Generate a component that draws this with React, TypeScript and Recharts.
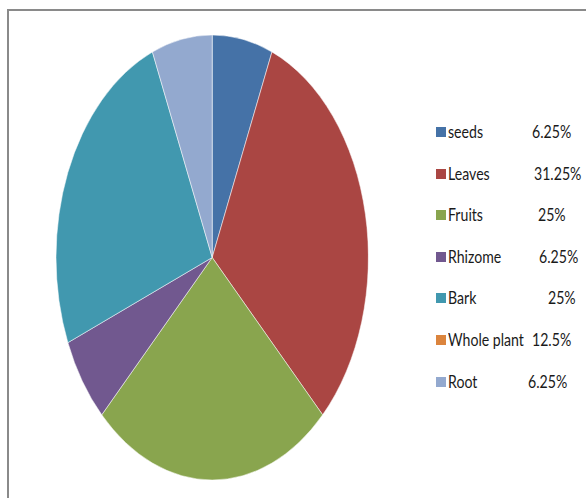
import { PieChart, Pie, Cell } from "recharts";

const categories = ["seeds", "Leaves", "Fruits", "Rhizome", "Bark", "Whole plant", "Root"];
const counts = [1, 5, 4, 1, 4, 0, 1];
const percentLabels = ["6.25%", "31.25%", "25%", "6.25%", "25%", "12.5%", "6.25%"];
const colors = ["#4572A7", "#AA4643", "#89A54E", "#71588F", "#4198AF", "#DB843D", "#93A9CF"];

// where each percent label starts in the legend (the source aligned them with spaces)
const pctLeft = [532, 534, 538, 539, 548, 532, 528];

const data = categories.map((name, i) => ({ name, value: counts[i] }));

const ROW_TOP = 132;
const ROW_GAP = 41.6;

const textStyle = {
  position: "absolute" as const,
  height: 22,
  lineHeight: "22px",
  fontSize: 17,
  color: "#1a1a1a",
  whiteSpace: "nowrap" as const,
  transform: "scaleX(0.83)",
  transformOrigin: "left center",
};

export default function App() {
  return (
    <div
      style={{
        position: "absolute",
        left: 0,
        top: 0,
        width: 586,
        height: 498,
        overflow: "hidden",
        background: "#fff",
        fontFamily: "Lato, 'Liberation Sans', sans-serif",
      }}
    >
      {/* chart frame, only top and left edges are visible */}
      <div
        style={{
          position: "absolute",
          left: 7,
          top: 9,
          width: 700,
          height: 700,
          borderTop: "2px solid #8a8a8a",
          borderLeft: "2px solid #8a8a8a",
        }}
      />

      {/* pie is drawn as a circle and squeezed horizontally into an ellipse */}
      <div
        style={{
          position: "absolute",
          left: 56,
          top: 35,
          width: 445,
          height: 445,
          transform: "scaleX(0.702)",
          transformOrigin: "left top",
        }}
      >
        <PieChart width={445} height={445} margin={{ top: 0, right: 0, bottom: 0, left: 0 }}>
          <Pie
            data={data}
            dataKey="value"
            nameKey="name"
            cx={222.5}
            cy={222.5}
            outerRadius={222.5}
            startAngle={90}
            endAngle={-270}
            stroke="#fff"
            strokeWidth={0.6}
            isAnimationActive={false}
          >
            {data.map((d, i) => (
              <Cell key={d.name} fill={colors[i]} />
            ))}
          </Pie>
        </PieChart>
      </div>

      {/* legend */}
      {categories.map((name, i) => {
        const cy = ROW_TOP + i * ROW_GAP;
        return (
          <div key={name}>
            <div
              style={{
                position: "absolute",
                left: 436,
                top: cy - 5,
                width: 10,
                height: 10,
                background: colors[i],
              }}
            />
            <div style={{ ...textStyle, left: 448, top: cy - 11 }}>{name}</div>
            <div style={{ ...textStyle, left: pctLeft[i], top: cy - 11 }}>
              {percentLabels[i]}
            </div>
          </div>
        );
      })}
    </div>
  );
}
